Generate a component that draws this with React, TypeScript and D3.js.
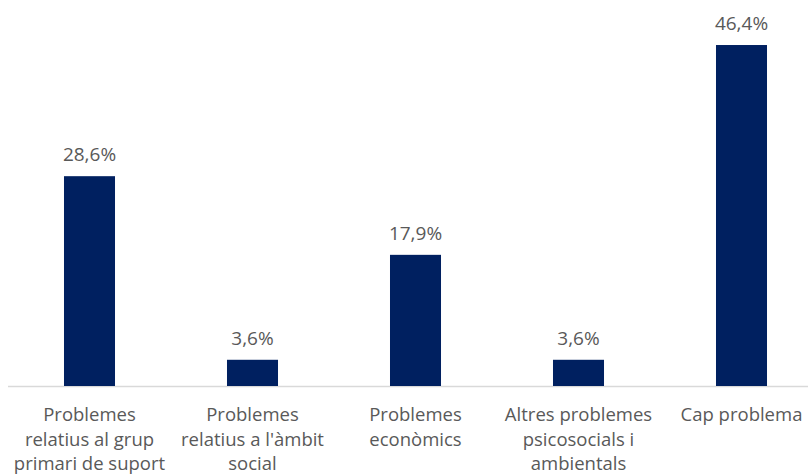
import React from "react";
import * as d3 from "d3";

const categories: string[][] = [
  ["Problemes", "relatius al grup", "primari de suport"],
  ["Problemes", "relatius a l'àmbit", "social"],
  ["Problemes", "econòmics"],
  ["Altres problemes", "psicosocials i", "ambientals"],
  ["Cap problema"],
];
const values: number[] = [28.57, 3.57, 17.86, 3.57, 46.43];

const W = 808;
const H = 474;
const FONT = "'Open Sans', sans-serif";

export default function App() {
  const keys = categories.map((_, i) => String(i));
  const x = d3
    .scaleBand<string>()
    .domain(keys)
    .range([8, 823])
    .paddingInner(0.687)
    .paddingOuter(0.3435);
  const y = d3.scaleLinear().domain([0, 50]).range([386, 18.8]);
  const fmt = (v: number) => d3.format(".1f")(v).replace(".", ",") + "%";

  return (
    <svg
      width={W}
      height={H}
      style={{ position: "absolute", left: 0, top: 0, background: "#fff" }}
      fontFamily={FONT}
    >
      <line x1={8} x2={808} y1={386.5} y2={386.5} stroke="#d9d9d9" strokeWidth={1.5} />
      {values.map((v, i) => {
        const bx = x(keys[i])!;
        const bw = x.bandwidth();
        return (
          <g key={i}>
            <rect x={bx} y={y(v)} width={bw} height={y(0) - y(v)} fill="#002060" />
            <text
              x={bx + bw / 2}
              y={y(v) - 15}
              textAnchor="middle"
              fontSize={19}
              fill="#595959"
            >
              {fmt(v)}
            </text>
            {categories[i].map((line, j) => (
              <text
                key={j}
                x={bx + bw / 2}
                y={421 + j * 24.5}
                textAnchor="middle"
                fontSize={18.5}
                fill="#595959"
              >
                {line}
              </text>
            ))}
          </g>
        );
      })}
    </svg>
  );
}
